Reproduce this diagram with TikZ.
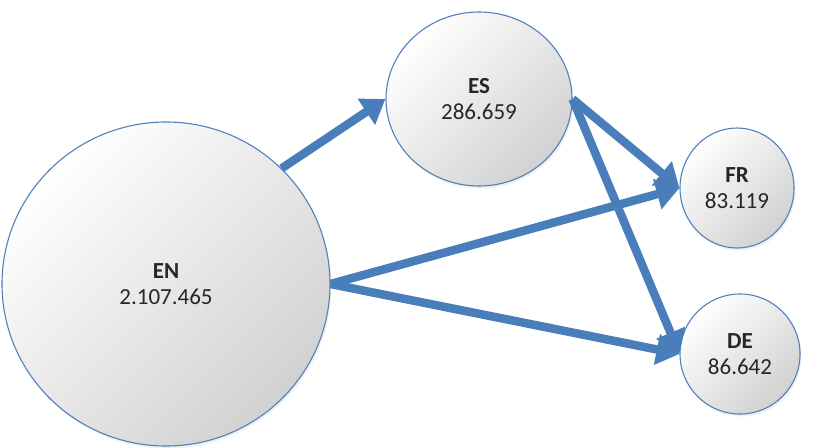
\documentclass[tikz,border=0pt]{standalone}
\usepackage{fontspec}
\setmainfont{Carlito}
\usetikzlibrary{shapes.geometric,arrows.meta,shadows}
\definecolor{arrowblue}{HTML}{4A7EBB}
\definecolor{edgeblue}{HTML}{4F81BD}
\begin{document}
\begin{tikzpicture}[x=1pt,y=-1pt,
  lang/.style={ellipse, draw=edgeblue, line width=1.1pt, inner sep=0pt,
    top color=white, bottom color=black!18, shading angle=45,
    drop shadow={opacity=0.12, shadow xshift=1.5pt, shadow yshift=-2.5pt},
    align=center, font=\fontsize{23}{26}\selectfont, text=black!85},
  flow/.style={draw=arrowblue, line width=8.5pt,
    -{Triangle[length=23pt,width=30pt]}}]
\useasboundingbox (0,0) rectangle (826,447);
\node[lang, minimum width=328pt, minimum height=324pt] (en) at (166,284) {\textbf{EN}\\2.107.465};
\node[lang, minimum width=186pt, minimum height=174pt] (es) at (479,99) {\textbf{ES}\\286.659};
\node[lang, minimum width=114pt, minimum height=120pt] (fr) at (737,188) {\textbf{FR}\\83.119};
\node[lang, minimum width=120pt, minimum height=120pt] (de) at (740,354) {\textbf{DE}\\86.642};
\draw[flow] (en.45) -- (es.west);
\draw[flow] (es.east) -- (fr.west);
\draw[flow] (es.east) -- (de.west);
\draw[flow] (en.east) -- (fr.west);
\draw[flow] (en.east) -- (de.west);
\end{tikzpicture}
\end{document}
